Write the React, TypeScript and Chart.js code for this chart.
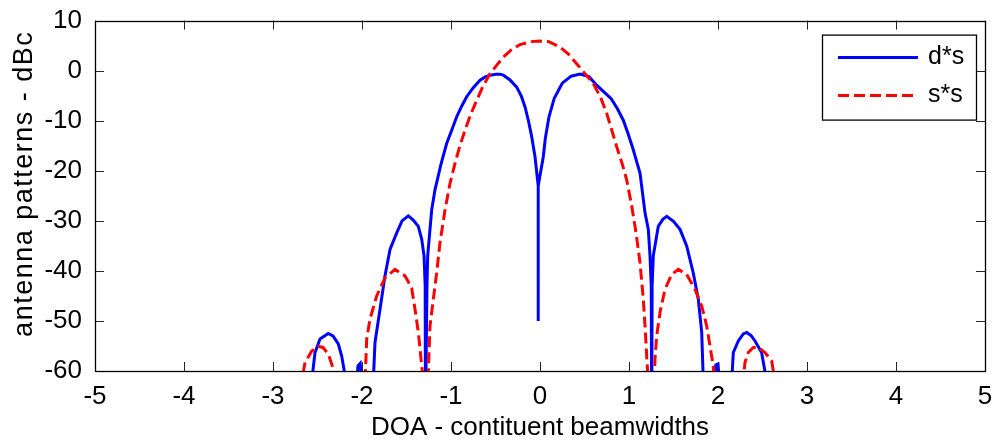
import { useEffect, useRef } from "react";
import { Chart, registerables } from "chart.js";

Chart.register(...registerables);

const FONT = "'Liberation Sans', Arial, Helvetica, sans-serif";

const xTicks = [-5, -4, -3, -2, -1, 0, 1, 2, 3, 4, 5];
const yTicks = [-60, -50, -40, -30, -20, -10, 0, 10];

const seriesLabels = ["d*s", "s*s"];

// d*s (blue, solid)
const dsX = [
  -2.62, -2.565, -2.528, -2.472, -2.379, -2.326, -2.266, -2.228, -2.18, -2.1,
  -2.06, -2.045, -2.02, -2.005, -1.95,
  -1.873, -1.854, -1.798, -1.742, -1.685, -1.61, -1.55, -1.48, -1.427, -1.367, -1.329, -1.303, -1.29,
  -1.287, -1.27, -1.262,
  -1.217, -1.18, -1.11, -1.048, -0.99, -0.936, -0.88, -0.824, -0.75, -0.674, -0.62, -0.562, -0.494, -0.45,
  -0.412, -0.34, -0.262, -0.21, -0.169, -0.13, -0.093,
  -0.056, -0.02, -0.02, -0.02, 0.037,
  0.06, 0.1, 0.16, 0.25, 0.35, 0.45, 0.55, 0.637, 0.72, 0.8, 0.87, 0.936, 0.99, 1.048, 1.124, 1.18, 1.217,
  1.236, 1.25, 1.255, 1.26, 1.273,
  1.329, 1.38, 1.424, 1.5, 1.573, 1.648, 1.722, 1.779, 1.817, 1.835, 1.9,
  1.96, 1.975, 2.0, 2.015, 2.08,
  2.154, 2.172, 2.228, 2.284, 2.322, 2.37, 2.416, 2.49, 2.547, 2.6,
];
const dsY = [
  -70, -62, -56.3, -53.6, -52.5, -53.0, -54.6, -57, -62, -70,
  -62, -59, -58.5, -62, -70,
  -62, -54.3, -47.7, -41, -35.7, -32.4, -30.0, -29.0, -29.8, -31.1, -33.7, -37, -43,
  -70, -43, -37,
  -27.8, -23.8, -18.5, -14.5, -11.8, -9.2, -7.1, -5.2, -3.4, -1.9, -1.3, -0.9, -0.7, -0.7,
  -0.9, -1.8, -3.3, -5.1, -7.2, -10, -13.2,
  -17.2, -23, -50, -23, -17.2,
  -13.5, -9.3, -5.5, -2.5, -1.1, -0.7, -1.2, -2.9, -4.3, -5.6, -7.6, -9.9, -12.6, -15.8, -20.5, -28.4, -31.7,
  -37, -43, -70, -43, -37,
  -31.1, -29.7, -29.1, -30.1, -31.7, -35, -40.4, -45.7, -52.3, -62, -70,
  -62, -58.8, -58.6, -62, -70,
  -62, -56.3, -54, -52.6, -52.3, -52.9, -54, -56.3, -62, -70,
];

// s*s (red, dashed)
const ssX = [
  -2.72, -2.678, -2.64, -2.565, -2.491, -2.438, -2.379, -2.322, -2.303, -2.15,
  -1.966, -1.947, -1.91, -1.835, -1.742, -1.629, -1.517, -1.442, -1.404, -1.367, -1.329, -1.31, -1.28,
  -1.258, -1.236, -1.199, -1.161, -1.124, -1.067, -1.011, -0.955, -0.9, -0.843, -0.78, -0.711, -0.64,
  -0.562, -0.49, -0.412, -0.32, -0.225, -0.1,
  0, 0.1, 0.225, 0.32, 0.412, 0.5, 0.599, 0.68, 0.749, 0.8, 0.862, 0.92, 0.974, 1.031, 1.08, 1.124, 1.161,
  1.18, 1.199, 1.215, 1.25,
  1.285, 1.292, 1.311, 1.348, 1.404, 1.48, 1.554, 1.648, 1.742, 1.817, 1.873, 1.91, 1.947, 1.96, 2.1,
  2.284, 2.303, 2.34, 2.397, 2.453, 2.528, 2.603, 2.64, 2.7,
];
const ssY = [
  -70, -62, -58.3, -56, -55.1, -55.3, -56.6, -59.6, -62, -70,
  -62, -53.6, -49.6, -45, -41.4, -39.7, -41, -43.4, -47.7, -52.3, -59, -62, -70,
  -62, -51, -45.7, -40.4, -34.4, -27.8, -22.5, -18.5, -15, -11.9, -8.8, -5.9, -3.1,
  -0.6, 1.0, 2.7, 4.2, 5.2, 5.8,
  5.9, 5.8, 4.7, 3.3, 1.4, -0.5, -2.6, -5.3, -8.5, -11.5, -15.2, -18.4, -21.8, -27.1, -32.5, -38.4, -45.7,
  -51, -57, -62, -70,
  -62, -57.6, -53, -48.3, -43.7, -40.7, -39.7, -40.7, -43.7, -47, -51, -55, -59, -62, -70,
  -62, -58.3, -56.3, -55.3, -55.3, -56.3, -58, -62, -70,
];

const toPoints = (xs: number[], ys: number[]) => xs.map((x, i) => ({ x, y: ys[i] }));

const framePlugin = {
  id: "matlabFrame",
  beforeDatasetsDraw(chart: any) {
    const { ctx, chartArea: a, scales } = chart;
    ctx.save();
    ctx.strokeStyle = "#262626";
    ctx.lineWidth = 1;
    ctx.beginPath();
    const tl = 9;
    for (const v of xTicks) {
      const px = Math.round(scales.x.getPixelForValue(v)) + 0.5;
      ctx.moveTo(px, a.bottom);
      ctx.lineTo(px, a.bottom - tl);
      ctx.moveTo(px, a.top);
      ctx.lineTo(px, a.top + tl);
    }
    for (const v of yTicks) {
      const py = Math.round(scales.y.getPixelForValue(v)) + 0.5;
      ctx.moveTo(a.left, py);
      ctx.lineTo(a.left + tl, py);
      ctx.moveTo(a.right, py);
      ctx.lineTo(a.right - tl, py);
    }
    ctx.stroke();
    ctx.strokeStyle = "#000";
    ctx.lineWidth = 1.3;
    ctx.strokeRect(Math.round(a.left) + 0.5, Math.round(a.top) + 0.5, Math.round(a.right - a.left), Math.round(a.bottom - a.top));
    ctx.restore();
  },
  afterDatasetsDraw(chart: any) {
    const { ctx, chartArea: a } = chart;
    const ds = chart.data.datasets;
    const bx = a.right - 163;
    const by = a.top + 14;
    const bw = 154;
    const bh = 85;
    ctx.save();
    ctx.fillStyle = "#fff";
    ctx.fillRect(bx, by, bw, bh);
    ctx.strokeStyle = "#000";
    ctx.lineWidth = 1.3;
    ctx.strokeRect(bx + 0.5, by + 0.5, bw, bh);
    const rows = [by + 23, by + 61];
    ds.forEach((d: any, i: number) => {
      const y = rows[i];
      ctx.beginPath();
      ctx.strokeStyle = d.borderColor;
      ctx.lineWidth = d.borderWidth;
      ctx.setLineDash(d.borderDash || []);
      ctx.moveTo(bx + 16, y);
      ctx.lineTo(bx + 96, y);
      ctx.stroke();
      ctx.setLineDash([]);
      ctx.fillStyle = "#000";
      ctx.font = `25px ${FONT}`;
      ctx.textBaseline = "middle";
      ctx.textAlign = "left";
      ctx.fillText(d.label, bx + 106, y);
    });
    ctx.restore();
  },
};

export default function App() {
  const ref = useRef<HTMLCanvasElement | null>(null);
  useEffect(() => {
    if (!ref.current) return;
    const chart = new Chart(ref.current, {
      type: "line",
      data: {
        datasets: [
          {
            label: seriesLabels[0],
            data: toPoints(dsX, dsY),
            borderColor: "#0000ff",
            borderWidth: 3,
            pointRadius: 0,
            tension: 0,
            fill: false,
            order: 2,
          },
          {
            label: seriesLabels[1],
            data: toPoints(ssX, ssY),
            borderColor: "#ff0000",
            borderWidth: 3,
            borderDash: [11, 5],
            pointRadius: 0,
            tension: 0,
            fill: false,
            order: 1,
          },
        ],
      },
      options: {
        animation: false,
        responsive: false,
        devicePixelRatio: 1,
        layout: { padding: { top: 20, right: 12, left: 0, bottom: 0 } },
        plugins: { legend: { display: false }, tooltip: { enabled: false } },
        scales: {
          x: {
            type: "linear",
            min: -5,
            max: 5,
            afterBuildTicks: (s: any) => {
              s.ticks = xTicks.map((v) => ({ value: v }));
            },
            ticks: { color: "#000", font: { family: FONT, size: 26 }, padding: 2, maxRotation: 0, autoSkip: false },
            grid: { display: false },
            border: { display: false },
            title: {
              display: true,
              text: "DOA - contituent beamwidths",
              color: "#000",
              font: { family: FONT, size: 26 },
              padding: { top: 0, bottom: 0 },
            },
            afterFit: (s: any) => {
              s.height = 72;
            },
          },
          y: {
            type: "linear",
            min: -60,
            max: 10,
            afterBuildTicks: (s: any) => {
              s.ticks = yTicks.map((v) => ({ value: v }));
            },
            ticks: { color: "#000", font: { family: FONT, size: 26 }, padding: 5, autoSkip: false },
            grid: { display: false },
            border: { display: false },
            title: {
              display: true,
              text: "antenna patterns - dBc",
              color: "#000",
              font: { family: FONT, size: 27 },
              padding: { top: 8, bottom: 0 },
            },
            afterFit: (s: any) => {
              s.width = 95;
              if (!s._spacedTitle) {
                s._spacedTitle = true;
                const orig = s.drawTitle.bind(s);
                s.drawTitle = () => {
                  const c = s.ctx;
                  const prev = c.letterSpacing;
                  c.save();
                  c.translate(0, -12);
                  c.letterSpacing = "1.5px";
                  orig();
                  c.restore();
                  c.letterSpacing = prev || "0px";
                };
              }
            },
          },
        },
      },
      plugins: [framePlugin],
    });
    return () => chart.destroy();
  }, []);
  return (
    <div style={{ position: "absolute", left: 0, top: 0, width: 997, height: 443, background: "#fff" }}>
      <canvas ref={ref} width={997} height={443} style={{ display: "block" }} />
    </div>
  );
}
